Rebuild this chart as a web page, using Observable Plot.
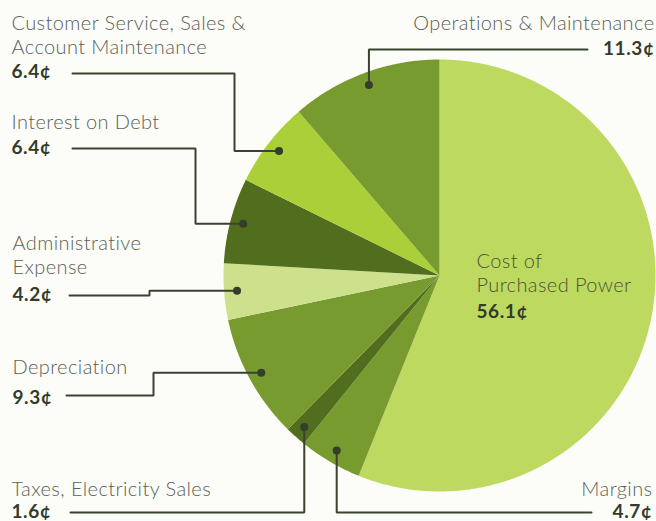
<!DOCTYPE html>
<html><head><meta charset="utf-8">
<script src="https://cdn.jsdelivr.net/npm/d3@7"></script>
<script src="https://cdn.jsdelivr.net/npm/@observablehq/plot@0.6"></script>
<style>
html,body{margin:0;padding:0;background:#fcfdf8;}
#chart{width:656px;height:521px;overflow:hidden;}
#chart g[font-weight="300"]{letter-spacing:0.4px;}
#chart g[font-weight="700"]{letter-spacing:0.6px;}
</style>
</head><body><div id="chart"></div>
<script>
// ---- data (clockwise from 12 o'clock) ----
const categories = [
  "Cost of\nPurchased Power",
  "Margins",
  "Taxes, Electricity Sales",
  "Depreciation",
  "Administrative\nExpense",
  "Interest on Debt",
  "Customer Service, Sales &\nAccount Maintenance",
  "Operations & Maintenance"
];
const values = [56.1, 4.7, 1.6, 9.3, 4.2, 6.4, 6.4, 11.3];
const valueLabels = ["56.1¢", "4.7¢", "1.6¢", "9.3¢", "4.2¢", "6.4¢", "6.4¢", "11.3¢"];
const colors = ["#bdd960", "#789b30", "#516e1f", "#789b30", "#cde18d", "#516e1f", "#aacf39", "#789b30"];

// ---- layout (positions only) ----
const W = 656, H = 521;
const P = {cx: 439, cy: 275, r: 216, dotFrac: 0.94};
// text: x, baseline of last name line, baseline of value, anchor; leader: start point + elbow
const layout = [
  {tx: 476, ny: 291, vy: 317, anchor: "start", leader: null},
  {tx: 652, ny: 495, vy: 517, anchor: "end", leader: {type: "vh", sx: 591, sy: 512}},
  {tx: 11, ny: 495, vy: 517, anchor: "start", leader: {type: "hv", sx: 70, sy: 512}},
  {tx: 12, ny: 373, vy: 403, anchor: "start", leader: {type: "hvh", sx: 66, sy: 395, ex: 153}},
  {tx: 12, ny: 273, vy: 300, anchor: "start", leader: {type: "hvh", sx: 69, sy: 295, ex: 149}},
  {tx: 11, ny: 128, vy: 153, anchor: "start", leader: {type: "hvh", sx: 72, sy: 148, ex: 195}},
  {tx: 11, ny: 53, vy: 77, anchor: "start", leader: {type: "hvh", sx: 72, sy: 73, ex: 234}},
  {tx: 654, ny: 29, vy: 54, anchor: "end", leader: {type: "hv", sx: 587, sy: 49}}
];

// ---- geometry from the data ----
const arcs = d3.pie().sort(null).value(d => d)(values);
const pt = (a, r) => ({x: P.cx + r * Math.sin(a), y: P.cy - r * Math.cos(a)});

const slicePts = [];
arcs.forEach((a, i) => {
  const n = Math.max(2, Math.ceil((a.endAngle - a.startAngle) / (Math.PI / 360)));
  slicePts.push({name: i, ...pt(0, 0)});
  for (let k = 0; k <= n; k++) {
    const t = a.startAngle + (a.endAngle - a.startAngle) * k / n;
    slicePts.push({name: i, ...pt(t, P.r)});
  }
  slicePts.push({name: i, ...pt(0, 0)});
});

const dots = arcs.map((a, i) => ({i, ...pt((a.startAngle + a.endAngle) / 2, P.r * P.dotFrac)}))
  .filter(d => layout[d.i].leader);

const leaders = [];
dots.forEach(d => {
  const L = layout[d.i].leader;
  const pts = L.type === "hvh"
    ? [[L.sx, L.sy], [L.ex, L.sy], [L.ex, d.y], [d.x, d.y]]
    : [[L.sx, L.sy], [d.x, L.sy], [d.x, d.y]];
  pts.forEach(p => leaders.push({i: d.i, x: p[0], y: p[1]}));
});

const names = categories.map((c, i) => ({i, text: c, x: layout[i].tx, y: layout[i].ny, anchor: layout[i].anchor}));
const vals = valueLabels.map((v, i) => ({i, text: v, x: layout[i].tx, y: layout[i].vy, anchor: layout[i].anchor}));

const font = "Lato, 'Open Sans', sans-serif";

const chart = Plot.plot({
  width: W, height: H, margin: 0,
  x: {domain: [0, W], range: [0, W], axis: null},
  y: {domain: [0, H], range: [0, H], axis: null},
  style: {background: "#fcfdf8", overflow: "hidden"},
  marks: [
    ...arcs.map((a, i) => Plot.line(slicePts.filter(p => p.name === i),
      {x: "x", y: "y", fill: colors[i], stroke: "none", curve: "linear"})),
    Plot.line(leaders, {x: "x", y: "y", z: "i", stroke: "#3a4330", strokeWidth: 2, strokeLinejoin: "miter", curve: "linear"}),
    Plot.dot(dots, {x: "x", y: "y", r: 4, fill: "#353d2b", stroke: "none"}),
    ...["start", "end"].flatMap(anc => [
      Plot.text(names.filter(d => d.anchor === anc), {x: "x", y: "y", text: "text", textAnchor: anc, lineAnchor: "bottom",
        fontFamily: font, fontWeight: 300, fontSize: 20, lineHeight: 1.2,
        fill: d => d.i === 0 ? "#4b5337" : "#5b6056"}),
      Plot.text(vals.filter(d => d.anchor === anc), {x: "x", y: "y", text: "text", textAnchor: anc, lineAnchor: "bottom",
        fontFamily: font, fontWeight: 700, fontSize: 19, fill: "#333b2b"})
    ])
  ]
});
document.getElementById("chart").appendChild(chart);
</script>
</body></html>
